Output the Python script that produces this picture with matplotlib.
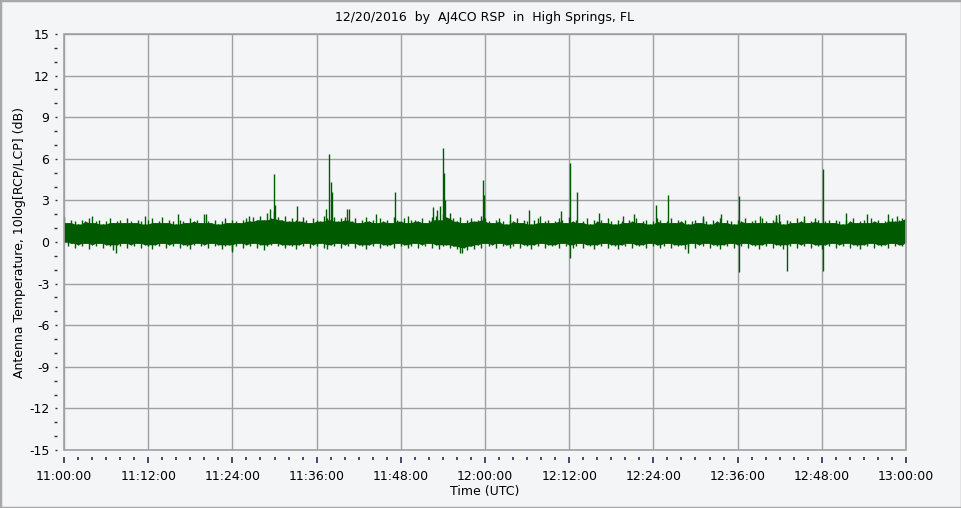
import matplotlib
matplotlib.use("Agg")
import matplotlib.pyplot as plt
import numpy as np
from matplotlib.ticker import MultipleLocator, FuncFormatter
from matplotlib.patches import Rectangle

plt.rcParams['axes.unicode_minus'] = False

# band edges, every 30 s from 11:00:00 (dB)
band_top = [
    1.8, 1.4, 1.6, 1.5, 1.3, 1.6, 1.5, 1.7, 1.4, 1.5, 1.6, 1.3, 1.5, 1.7, 1.4, 1.5, 1.6, 1.4, 1.7, 1.5,
    1.4, 1.6, 1.5, 1.3, 1.6, 1.7, 1.4, 1.5, 1.8, 1.4, 1.6, 1.5, 1.3, 1.6, 1.5, 1.4, 1.7, 1.5, 1.6, 1.4,
    2.0, 1.5, 1.4, 1.6, 1.3, 1.5, 1.7, 1.4, 1.6, 1.5, 1.4, 1.6, 1.7, 1.5, 1.8, 1.6, 1.9, 1.6, 2.1, 1.7,
    2.2, 1.8, 1.6, 1.9, 1.5, 1.7, 1.6, 1.5, 1.8, 1.6, 1.4, 1.7, 1.6, 1.5, 1.9, 1.7, 1.6, 1.8, 1.5, 1.7,
    1.8, 1.6, 1.5, 1.7, 1.4, 1.6, 1.8, 1.5, 1.6, 1.4, 1.7, 1.5, 1.6, 1.4, 1.8, 1.6, 1.5, 1.7, 1.4, 1.6,
    1.6, 1.5, 1.7, 1.4, 1.6, 1.8, 1.9, 1.6, 2.0, 1.8, 2.1, 1.7, 1.5, 1.8, 1.4, 1.6, 1.7, 1.5, 1.6, 1.9,
    1.7, 1.5, 1.4, 1.6, 1.7, 1.5, 1.3, 1.6, 1.5, 1.7, 1.4, 1.6, 1.5, 1.3, 1.6, 1.7, 1.4, 1.5, 1.6, 1.4,
    1.5, 1.7, 1.6, 1.4, 1.8, 1.5, 1.6, 1.4, 1.5, 1.7, 1.3, 1.6, 1.5, 1.6, 1.4, 1.7, 1.5, 1.3, 1.6, 1.5,
    1.4, 1.6, 1.5, 1.7, 1.4, 1.5, 1.6, 1.3, 1.5, 1.7, 1.6, 1.4, 1.5, 1.7, 1.4, 1.6, 1.5, 1.6, 1.3, 1.5,
    1.6, 1.4, 1.7, 1.5, 1.3, 1.6, 1.5, 1.7, 1.4, 1.6, 1.5, 1.3, 1.6, 1.5, 1.7, 1.4, 1.5, 1.6, 1.4, 1.7,
    1.5, 1.4, 1.6, 1.7, 1.5, 1.3, 1.6, 1.5, 1.4, 1.7, 1.5, 1.6, 1.4, 1.5, 1.7, 1.6, 1.4, 1.5, 1.6, 1.4,
    1.6, 1.5, 1.3, 1.6, 1.5, 1.7, 1.4, 1.5, 1.6, 1.4, 1.7, 1.5, 1.6, 1.4, 1.5, 1.6, 1.7, 1.5, 1.6, 1.7,
    1.7]
band_bottom = [
    0.0, -0.3, -0.1, -0.4, -0.2, -0.3, -0.1, -0.5, -0.2, -0.3, -0.1, -0.4, -0.2, -0.3, -0.6, -0.2, -0.3, -0.1, -0.4, -0.2,
    -0.3, -0.1, -0.4, -0.2, -0.3, -0.5, -0.2, -0.3, -0.1, -0.4, -0.2, -0.3, -0.1, -0.4, -0.2, -0.3, -0.5, -0.2, -0.1, -0.3,
    -0.2, -0.4, -0.1, -0.3, -0.2, -0.5, -0.3, -0.2, -0.6, -0.3, -0.1, -0.4, -0.2, -0.3, -0.1, -0.4, -0.2, -0.6, -0.3, -0.2,
    -0.1, -0.3, -0.2, -0.4, -0.2, -0.3, -0.5, -0.2, -0.3, -0.1, -0.4, -0.2, -0.3, -0.1, -0.4, -0.5, -0.2, -0.3, -0.1, -0.4,
    -0.2, -0.3, -0.1, -0.4, -0.2, -0.3, -0.5, -0.2, -0.3, -0.1, -0.4, -0.2, -0.3, -0.2, -0.4, -0.1, -0.3, -0.2, -0.4, -0.3,
    -0.1, -0.4, -0.2, -0.3, -0.1, -0.4, -0.2, -0.5, -0.3, -0.2, -0.4, -0.3, -0.5, -0.8, -0.4, -0.6, -0.3, -0.5, -0.2, -0.4,
    -0.1, -0.3, -0.2, -0.4, -0.1, -0.3, -0.2, -0.4, -0.3, -0.1, -0.4, -0.2, -0.3, -0.5, -0.2, -0.3, -0.1, -0.4, -0.2, -0.3,
    -0.2, -0.4, -0.1, -0.3, -0.2, -0.4, -0.3, -0.1, -0.4, -0.2, -0.3, -0.5, -0.2, -0.3, -0.1, -0.4, -0.2, -0.3, -0.5, -0.2,
    -0.3, -0.1, -0.4, -0.2, -0.3, -0.2, -0.4, -0.1, -0.3, -0.2, -0.4, -0.3, -0.1, -0.4, -0.2, -0.3, -0.2, -0.5, -0.3, -0.1,
    -0.4, -0.2, -0.3, -0.1, -0.4, -0.2, -0.3, -0.5, -0.2, -0.3, -0.1, -0.4, -0.2, -0.3, -0.1, -0.4, -0.2, -0.3, -0.5, -0.2,
    -0.3, -0.1, -0.4, -0.2, -0.3, -0.5, -0.2, -0.3, -0.1, -0.4, -0.2, -0.3, -0.1, -0.4, -0.2, -0.3, -0.5, -0.2, -0.3, -0.1,
    -0.4, -0.2, -0.3, -0.1, -0.4, -0.2, -0.3, -0.5, -0.2, -0.3, -0.1, -0.4, -0.2, -0.3, -0.2, -0.4, -0.1, -0.3, -0.2, -0.3,
    -0.2]

# bursts above the band: minutes after 11:00, peak dB
spike_min = [4.0, 11.5, 16.2, 20.3, 26.3, 29.3, 29.97, 30.1, 33.2, 37.4, 37.8, 38.05, 38.2,
             40.3, 40.6, 44.5, 47.2, 49.0, 52.6, 53.1, 53.6, 54.05, 54.15, 54.3, 59.76,
             59.85, 63.5, 66.3, 67.8, 70.9, 72.15, 73.06, 76.3, 79.6, 81.2, 84.4, 86.1,
             91.0, 93.7, 96.2, 99.2, 101.9, 101.5, 105.5, 108.2, 111.5, 114.5, 117.4, 118.7]
spike_db = [1.9, 1.9, 2.0, 2.0, 1.9, 2.4, 4.9, 2.7, 2.6, 2.4, 6.35, 4.3, 3.6,
            2.4, 2.4, 2.0, 3.6, 1.9, 2.5, 2.3, 2.6, 6.8, 5.0, 3.0, 4.5,
            3.4, 2.0, 2.3, 1.9, 2.2, 5.7, 3.6, 2.1, 1.9, 2.0, 2.7, 3.4,
            1.9, 2.0, 3.3, 1.9, 2.0, 1.95, 1.9, 5.25, 2.1, 2.0, 2.0, 1.9]

# dips below the band
dip_min = [7.4, 24.0, 56.7, 72.15, 89.0, 96.2, 103.0, 108.2]
dip_db = [-0.8, -0.7, -0.8, -1.18, -0.82, -2.14, -2.07, -2.07]

t_band = np.arange(len(band_top)) * 0.5
top = np.array(band_top)
bot = np.array(band_bottom)
# solid core: the lowest top / highest bottom of each sample and its neighbours
core_top = np.minimum(np.minimum(top, np.roll(top, 1)), np.roll(top, -1))
core_bot = np.maximum(np.maximum(bot, np.roll(bot, 1)), np.roll(bot, -1))

green = '#005a00'
bg = '#f4f5f7'
gridc = '#a0a0a0'

fig = plt.figure(figsize=(9.62, 5.08), dpi=100, facecolor=bg)
ax = fig.add_axes([64 / 962, 58 / 508, 842 / 962, 416 / 508])
ax.set_facecolor(bg)

ax.fill_between(t_band, core_bot, core_top, color=green, linewidth=0, zorder=3)
ax.vlines(t_band, bot, top, color=green, linewidth=1.0, zorder=3)
ax.vlines(spike_min, 0.6, spike_db, color=green, linewidth=1.0, zorder=3)
ax.vlines(dip_min, 0.0, dip_db, color=green, linewidth=1.0, zorder=3)

ax.set_xlim(0, 120)
ax.set_ylim(-15, 15)

ax.xaxis.set_major_locator(MultipleLocator(12))
ax.xaxis.set_minor_locator(MultipleLocator(2))
ax.yaxis.set_major_locator(MultipleLocator(3))
ax.yaxis.set_minor_locator(MultipleLocator(1))


def hhmmss(x, pos):
    m = int(round(x))
    return '{:02d}:{:02d}:00'.format(11 + m // 60, m % 60)


ax.xaxis.set_major_formatter(FuncFormatter(hhmmss))
ax.grid(True, which='major', color=gridc, linewidth=1.0, zorder=1)

# frame drawn separately so the ticks can sit a few pixels away from it
for s in ax.spines.values():
    s.set_visible(False)
ax.spines['left'].set_position(('outward', 5))
ax.spines['bottom'].set_position(('outward', 5))
ax.add_patch(Rectangle((0, 0), 1, 1, transform=ax.transAxes, fill=False,
                       edgecolor=gridc, linewidth=1.2, zorder=4, clip_on=False))

tc = '#2b2b45'
ax.tick_params(axis='x', which='major', length=4.5, width=1.2, color=tc, pad=5,
               labelsize=9)
ax.tick_params(axis='x', which='minor', length=2.5, width=1.2, color=tc)
ax.tick_params(axis='y', which='major', length=1.5, width=1, color=tc, pad=4,
               labelsize=9)
ax.tick_params(axis='y', which='minor', length=2.5, width=1, color=tc)

ax.set_title('12/20/2016  by  AJ4CO RSP  in  High Springs, FL', fontsize=9, pad=9)
ax.set_xlabel('Time (UTC)', fontsize=9, labelpad=1)
ax.set_ylabel('Antenna Temperature, 10log[RCP/LCP] (dB)', fontsize=9, labelpad=2)

fig.patches.append(Rectangle((0, 0), 1, 1, transform=fig.transFigure, fill=False,
                             edgecolor='#a8a8a8', linewidth=2.5))

fig.savefig('out.png', dpi=100, facecolor=bg)
